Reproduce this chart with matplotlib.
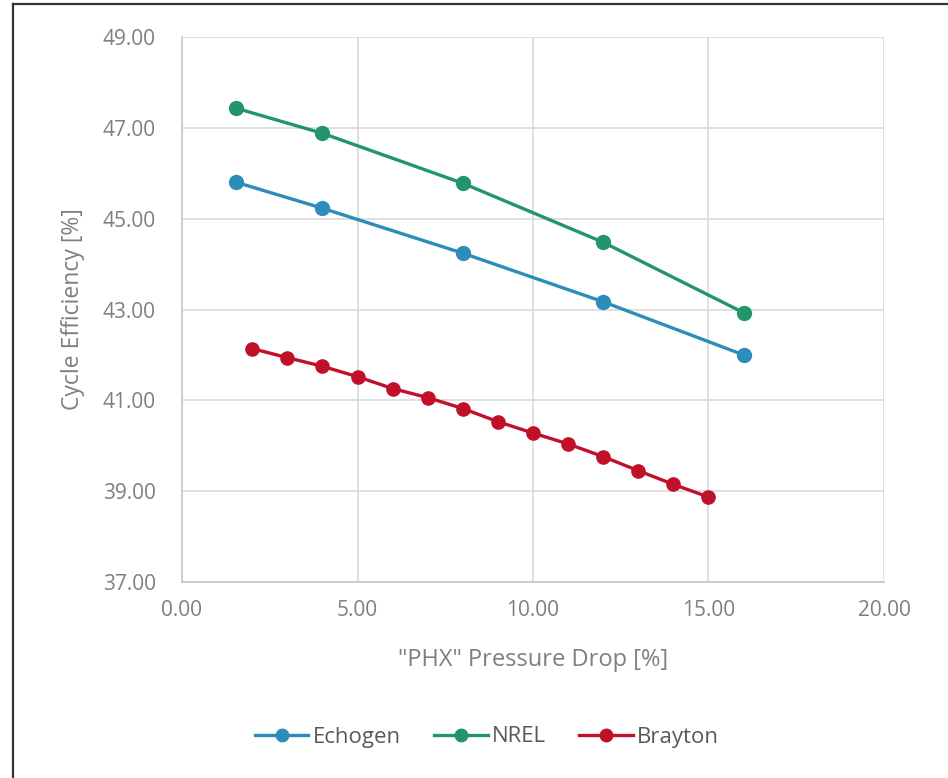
import matplotlib
matplotlib.use("Agg")
import matplotlib.pyplot as plt
from matplotlib.lines import Line2D

# Cycle efficiency vs. primary heat exchanger pressure drop
echogen_x = [1.55, 4.0, 8.0, 12.0, 16.0]
echogen_y = [45.80, 45.23, 44.24, 43.17, 42.00]

nrel_x = [1.55, 4.0, 8.0, 12.0, 16.0]
nrel_y = [47.43, 46.88, 45.78, 44.48, 42.93]

brayton_x = [2, 3, 4, 5, 6, 7, 8, 9, 10, 11, 12, 13, 14, 15]
brayton_y = [42.14, 41.94, 41.75, 41.52, 41.26, 41.06, 40.82,
             40.53, 40.28, 40.04, 39.76, 39.45, 39.15, 38.87]

x_ticks = [0, 5, 10, 15, 20]
y_ticks = [37, 39, 41, 43, 45, 47, 49]

c_echogen = "#2C8DBB"
c_nrel = "#22966A"
c_brayton = "#C0102A"
text_gray = "#7F7F7F"
grid_gray = "#D9D9D9"

plt.rcParams["font.family"] = ["Open Sans", "DejaVu Sans"]

fig = plt.figure(figsize=(9.48, 7.78), dpi=100)
ax = fig.add_axes([182 / 948, 1 - 582 / 778, (884 - 182) / 948, (582 - 37) / 778])

ax.plot(echogen_x, echogen_y, color=c_echogen, lw=2.4, marker="o", ms=10, label="Echogen", zorder=3)
ax.plot(nrel_x, nrel_y, color=c_nrel, lw=2.4, marker="o", ms=10, label="NREL", zorder=3)
ax.plot(brayton_x, brayton_y, color=c_brayton, lw=2.4, marker="o", ms=9.5, label="Brayton", zorder=3)

ax.set_xlim(0, 20)
ax.set_ylim(37, 49)
ax.set_xticks(x_ticks)
ax.set_yticks(y_ticks)
ax.set_xticklabels([f"{v:.2f}" for v in x_ticks])
ax.set_yticklabels([f"{v:.2f}" for v in y_ticks])
ax.grid(True, color=grid_gray, lw=1.2, zorder=0)
ax.tick_params(length=0, labelsize=15, colors=text_gray)
ax.tick_params(axis="x", pad=13)
ax.tick_params(axis="y", pad=19)

for side in ["top", "right"]:
    ax.spines[side].set_visible(False)
for side in ["left", "bottom"]:
    ax.spines[side].set_color("#C8C8C8")
    ax.spines[side].set_linewidth(1.2)

ax.set_xlabel('"PHX" Pressure Drop [%]', fontsize=17, color=text_gray, va="center")
ax.xaxis.set_label_coords(0.5, (582 - 660) / 545)
ax.set_ylabel("Cycle Efficiency [%]", fontsize=16.5, color=text_gray, va="center")
ax.yaxis.set_label_coords((73 - 182) / 702, 0.5)

handles = [
    Line2D([], [], color=c_echogen, lw=2.4, marker="o", ms=9),
    Line2D([], [], color=c_nrel, lw=2.4, marker="o", ms=9),
    Line2D([], [], color=c_brayton, lw=2.4, marker="o", ms=9),
]
fig.legend(handles, ["Echogen", "NREL", "Brayton"], loc="center",
           bbox_to_anchor=(487 / 948, 1 - 737 / 778), ncol=3, frameon=False,
           fontsize=16, labelcolor="#595959", handlelength=2.4,
           handletextpad=0.2, columnspacing=1.5)

# outer chart frame (top and left edges)
fig.add_artist(Line2D([13 / 948, 13 / 948], [0, 1 - 4 / 778], transform=fig.transFigure,
                      color="#333333", lw=1.6))
fig.add_artist(Line2D([13 / 948, 1], [1 - 4 / 778, 1 - 4 / 778], transform=fig.transFigure,
                      color="#333333", lw=1.6))

fig.savefig("out.png", dpi=100, facecolor="white")
